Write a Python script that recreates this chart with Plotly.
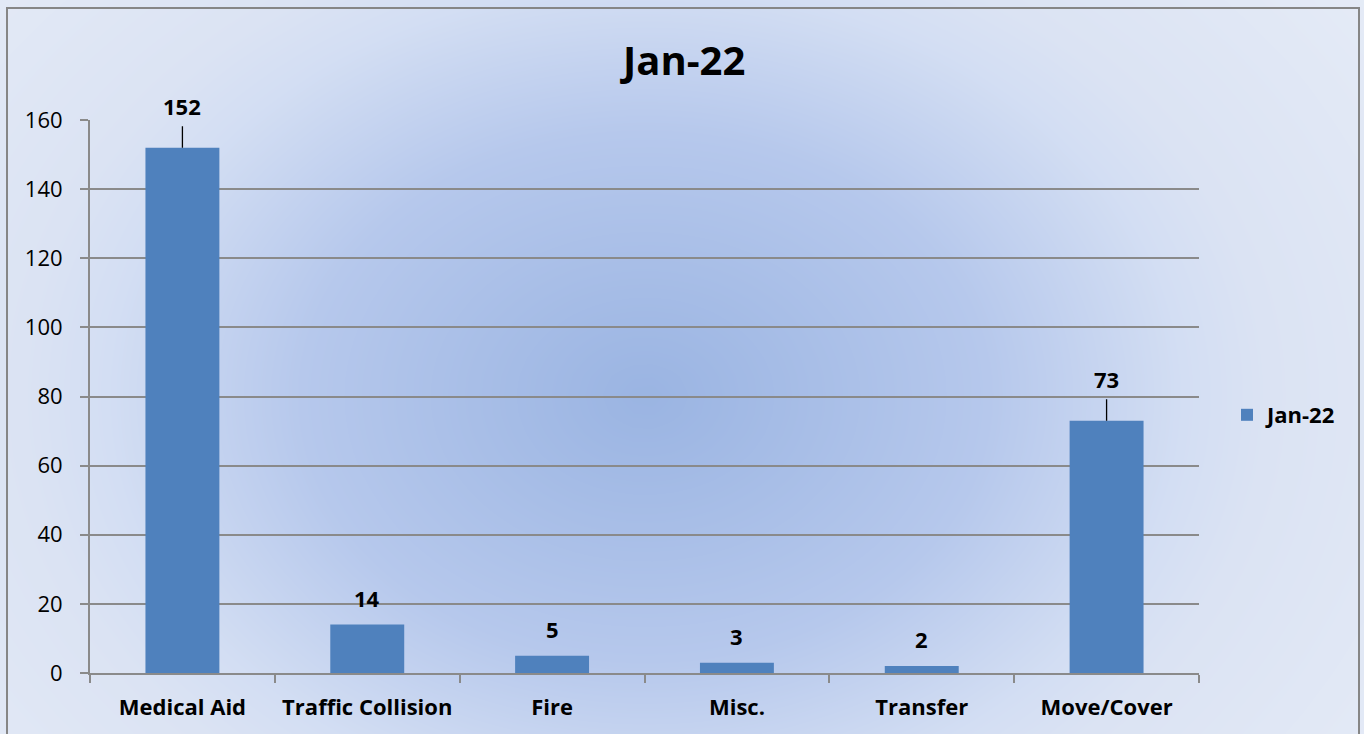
import numpy as np
import plotly.graph_objects as go

# chart data
categories = ["Medical Aid", "Traffic Collision", "Fire", "Misc.", "Transfer", "Move/Cover"]
calls = [152, 14, 5, 3, 2, 73]
series_name = "Jan-22"
y_ticks = [0, 20, 40, 60, 80, 100, 120, 140, 160]

W, H = 1364, 734
PLOT_L, PLOT_R, PLOT_T, PLOT_B = 90, 1199, 120, 673

BAR_COLOR = "#4f81bd"
GRID_COLOR = "#8a8a8a"
FONT = "'Open Sans', Arial, sans-serif"

# soft radial background like the Office chart fill
gx = np.linspace(0, W, 70)
gy = np.linspace(0, H, 40)
cx, cy, rx, ry = 645, 396, 620, 475
dist = np.sqrt(((gx[None, :] - cx) / rx) ** 2 + ((gy[:, None] - cy) / ry) ** 2)
dist = np.minimum(dist, 1.5)

bg = go.Heatmap(
    x=gx, y=gy, z=dist,
    zmin=0, zmax=1.5, zsmooth="best",
    colorscale=[
        [0.0, "#9ab4e2"],
        [0.37, "#b6c8ec"],
        [0.58, "#d3def3"],
        [0.67, "#dbe3f3"],
        [1.0, "#e6ecf7"],
    ],
    showscale=False, hoverinfo="skip", xaxis="x", yaxis="y",
)

bars = go.Bar(
    x=categories, y=calls, name=series_name,
    marker={"color": BAR_COLOR, "line": {"width": 0}},
    width=0.4, xaxis="x2", yaxis="y2",
)

fig = go.Figure([bg, bars])

label_font = {"family": FONT, "size": 22, "color": "#000000", "weight": "bold"}
annotations = []
for cat, val in zip(categories, calls):
    if val > 50:
        annotations.append(dict(
            x=cat, y=val, xref="x2", yref="y2", text=str(val),
            showarrow=True, arrowhead=0, arrowwidth=1.3, arrowcolor="#000000",
            ax=0, ay=-42, startstandoff=4, font=label_font,
        ))
    else:
        annotations.append(dict(
            x=cat, y=val, xref="x2", yref="y2", text=str(val),
            showarrow=False, yanchor="middle", yshift=27, font=label_font,
        ))

annotations.append(dict(
    x=0.5, y=(H - 60) / H, xref="paper", yref="paper", text="Jan-22",
    showarrow=False, xanchor="center", yanchor="middle",
    font={"family": FONT, "size": 40, "color": "#000000", "weight": "bold"},
))

fig.update_layout(
    width=W, height=H,
    margin={"l": 0, "r": 0, "t": 0, "b": 0, "autoexpand": False},
    paper_bgcolor="#dde5f3",
    plot_bgcolor="rgba(0,0,0,0)",
    font={"family": FONT, "color": "#000000"},
    showlegend=True,
    legend={
        "x": 1227 / W, "y": (H - 415) / H, "xanchor": "left", "yanchor": "middle",
        "bgcolor": "rgba(0,0,0,0)",
        "font": {"family": FONT, "size": 22, "color": "#000000", "weight": "bold"},
    },
    xaxis={"domain": [0, 1], "range": [0, W], "visible": False,
           "fixedrange": True, "automargin": False},
    yaxis={"domain": [0, 1], "range": [H, 0], "visible": False,
           "fixedrange": True, "automargin": False},
    xaxis2={
        "domain": [PLOT_L / W, PLOT_R / W], "anchor": "y2", "automargin": False,
        "type": "category", "categoryorder": "array", "categoryarray": categories,
        "showline": True, "linecolor": GRID_COLOR, "linewidth": 2,
        "ticks": "outside", "tickson": "boundaries", "ticklen": 8,
        "tickcolor": GRID_COLOR, "tickwidth": 2,
        "showgrid": False, "ticklabelstandoff": 14,
        "tickfont": {"family": FONT, "size": 22, "color": "#000000", "weight": "bold"},
    },
    yaxis2={
        "domain": [(H - PLOT_B) / H, (H - PLOT_T) / H], "anchor": "x2",
        "automargin": False,
        "range": [0, 160], "tickvals": y_ticks,
        "showline": True, "linecolor": GRID_COLOR, "linewidth": 2,
        "ticks": "outside", "ticklen": 8, "tickcolor": GRID_COLOR, "tickwidth": 2,
        "showgrid": True, "gridcolor": GRID_COLOR, "gridwidth": 2,
        "zeroline": False, "ticklabelstandoff": 13,
        "tickfont": {"family": FONT, "size": 22, "color": "#000000"},
    },
    annotations=annotations,
    shapes=[{
        "type": "rect", "xref": "paper", "yref": "paper",
        "x0": 7 / W, "x1": 1359 / W, "y0": -0.05, "y1": (H - 8) / H,
        "line": {"color": "#868686", "width": 2}, "fillcolor": "rgba(0,0,0,0)",
        "layer": "above",
    }],
)

# drop the default page margin so the figure sits at the window's corner
fig.write_html(
    "out.html",
    config={"displayModeBar": False},
    post_script="document.body.style.margin='0';",
)
